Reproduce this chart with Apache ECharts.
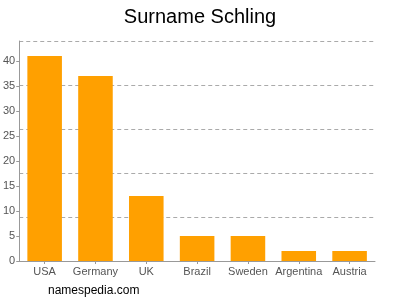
<!DOCTYPE html>
<html>
<head>
<meta charset="utf-8">
<script src="https://cdn.jsdelivr.net/npm/echarts@6/dist/echarts.min.js"></script>
<style>html,body{margin:0;padding:0;background:#fff}#c{width:400px;height:300px}</style>
</head>
<body>
<div id="c"></div>
<script>
var categories = ["USA", "Germany", "UK", "Brazil", "Sweden", "Argentina", "Austria"];
var counts = [41, 37, 13, 5, 5, 2, 2];
var yMax = 44;
var labelStep = 5;
var gridStep = 8.8;

var chart = echarts.init(document.getElementById('c'), null, {renderer: 'canvas'});
chart.setOption({
  animation: false,
  backgroundColor: '#ffffff',
  title: {
    text: 'Surname Schling', left: 'center', top: 2,
    textStyle: {fontFamily: 'Liberation Sans, Arial, sans-serif', fontSize: 20, fontWeight: 'normal', color: '#000'}
  },
  graphic: [{
    type: 'text', left: 48, top: 285,
    style: {text: 'namespedia.com', font: '12px "Liberation Sans", Arial, sans-serif', fill: '#000'}
  }],
  grid: {left: 17, right: 25, top: 41, bottom: 39, containLabel: false},
  xAxis: {
    type: 'category', data: categories,
    axisLine: {lineStyle: {color: '#999'}},
    axisTick: {show: true, alignWithLabel: true, length: 3, lineStyle: {color: '#999'}},
    axisLabel: {color: '#555', fontSize: 11, fontFamily: 'Liberation Sans, Arial, sans-serif', margin: 5, interval: 0}
  },
  yAxis: [{
    type: 'value', min: 0, max: yMax, interval: labelStep,
    axisLine: {show: true, lineStyle: {color: '#999'}},
    axisTick: {show: true, length: 3, lineStyle: {color: '#999'}},
    axisLabel: {color: '#555', fontSize: 11, fontFamily: 'Liberation Sans, Arial, sans-serif', margin: 4, showMaxLabel: false},
    splitLine: {show: false}
  }, {
    type: 'value', min: 0, max: yMax, interval: gridStep, position: 'left',
    axisLine: {show: false}, axisTick: {show: false}, axisLabel: {show: false},
    splitLine: {show: true, lineStyle: {color: '#aaa', type: [4, 3], width: 1}}
  }],
  series: [{
    type: 'bar', data: counts, yAxisIndex: 0, barWidth: '68%',
    itemStyle: {color: '#ffa000'}
  }]
});
</script>
</body>
</html>
